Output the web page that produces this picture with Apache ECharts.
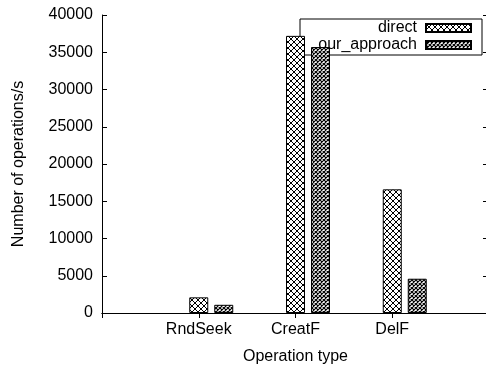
<!DOCTYPE html>
<html>
<head>
<meta charset="utf-8">
<script src="https://cdn.jsdelivr.net/npm/echarts@6/dist/echarts.min.js"></script>
<style>
html,body{margin:0;padding:0;background:#fff;}
#chart{width:486px;height:365px;}
</style>
</head>
<body>
<div id="chart"></div>
<script>
// ---- data ----
var categories = ['RndSeek', 'CreatF', 'DelF'];
var directValues = [2100, 37200, 16600];
var approachValues = [1100, 35700, 4600];
var seriesNames = ['direct', 'our_approach'];
var yTicks = [0, 5000, 10000, 15000, 20000, 25000, 30000, 35000, 40000];

// padded category axis (empty slots at both ends like the gnuplot x range)
var axisCats = [''].concat(categories).concat(['']);
function pad(arr) { return [null].concat(arr).concat([null]); }

function makePattern(size, lw) {
  var c = document.createElement('canvas');
  c.width = size; c.height = size;
  var g = c.getContext('2d');
  g.fillStyle = '#fff';
  g.fillRect(0, 0, size, size);
  g.strokeStyle = '#000';
  g.lineWidth = lw;
  g.beginPath();
  for (var k = -1; k <= 1; k++) {
    g.moveTo(k * size, 0); g.lineTo(k * size + size, size);
    g.moveTo(k * size, size); g.lineTo(k * size + size, 0);
  }
  g.stroke();
  return { image: c, repeat: 'repeat' };
}
var directPattern = makePattern(6, 1);
var approachPattern = makePattern(4, 1.2);

var FONT = "'Liberation Sans', Arial, sans-serif";
var chart = echarts.init(document.getElementById('chart'), null, { renderer: 'canvas' });

var lineStyle = { color: '#000', width: 1 };
chart.setOption({
  animation: false,
  backgroundColor: '#fff',
  textStyle: { fontFamily: FONT, color: '#000' },
  grid: { left: 102, top: 15, bottom: 52, right: -3, containLabel: false, outerBoundsMode: 'none' },
  legend: {
    data: seriesNames,
    orient: 'vertical',
    left: 300, top: 19,
    align: 'right',
    icon: 'rect',
    itemWidth: 45, itemHeight: 8, itemGap: 1,
    padding: [1, 10, 2, 7],
    borderColor: '#000', borderWidth: 1,
    z: 1,
    formatter: '{a|{name}}',
    textStyle: {
      fontFamily: FONT, fontSize: 16, color: '#000', lineHeight: 15,
      rich: { a: { width: 110, align: 'right', fontSize: 16, fontFamily: FONT, lineHeight: 15, padding: [0, 4, 0, 0] } }
    }
  },
  xAxis: [{
    type: 'category', data: axisCats, boundaryGap: false,
    position: 'bottom',
    axisLine: { show: true, lineStyle: lineStyle },
    axisTick: { show: true, inside: true, length: 5, lineStyle: lineStyle, interval: 0 },
    axisLabel: { interval: 0, fontSize: 16, fontFamily: FONT, color: '#000', margin: 9 },
    name: 'Operation type', nameLocation: 'middle', nameGap: 36,
    nameTextStyle: { fontSize: 16, fontFamily: FONT, color: '#000' },
    splitLine: { show: false }
  }, {
    type: 'category', data: axisCats, boundaryGap: false,
    position: 'top',
    axisLine: { show: true, lineStyle: lineStyle },
    axisTick: { show: true, inside: true, length: 5, lineStyle: lineStyle, interval: 0 },
    axisLabel: { show: false },
    splitLine: { show: false }
  }],
  yAxis: [{
    type: 'value', min: yTicks[0], max: yTicks[yTicks.length - 1], interval: yTicks[1] - yTicks[0],
    position: 'left',
    axisLine: { show: true, lineStyle: lineStyle },
    axisTick: { show: true, inside: true, length: 5, lineStyle: lineStyle },
    axisLabel: { fontSize: 16, fontFamily: FONT, color: '#000', margin: 9, formatter: function (v) { return String(v); } },
    splitLine: { show: false },
    name: 'Number of operations/s', nameLocation: 'middle', nameGap: 75, nameRotate: 90,
    nameTextStyle: { fontSize: 16, fontFamily: FONT, color: '#000' }
  }, {
    type: 'value', min: yTicks[0], max: yTicks[yTicks.length - 1], interval: yTicks[1] - yTicks[0],
    position: 'right',
    axisLine: { show: false },
    axisTick: { show: true, inside: true, length: 6, lineStyle: lineStyle },
    axisLabel: { show: false },
    splitLine: { show: false }
  }],
  series: [{
    // invisible spacer so that 'direct' sits centred on each category tick
    name: '_spacer', type: 'bar', data: pad(categories.map(function () { return null; })),
    barWidth: 19, barGap: '31.6%', silent: true
  }, {
    name: seriesNames[0], type: 'bar', data: pad(directValues),
    barWidth: 19, barGap: '31.6%',
    itemStyle: { color: directPattern, borderColor: '#000', borderWidth: 1 }
  }, {
    name: seriesNames[1], type: 'bar', data: pad(approachValues),
    barWidth: 19, barGap: '31.6%',
    itemStyle: { color: approachPattern, borderColor: '#000', borderWidth: 1 }
  }]
});
</script>
</body>
</html>
